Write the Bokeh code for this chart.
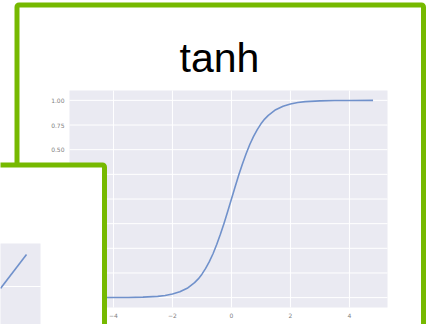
from bokeh.plotting import figure
from bokeh.models import BoxAnnotation, Label, PolyAnnotation, Range1d
from bokeh.core.properties import value
from bokeh.embed import file_html
from bokeh.resources import INLINE

# ---- data ----
title_text = "tanh"
tanh_x = [-5.0, -4.0, -3.5, -3.0, -2.5, -2.25, -2.0, -1.75, -1.5, -1.25, -1.125,
          -1.0, -0.875, -0.75, -0.625, -0.5, -0.375, -0.25, -0.125, 0.0,
          0.125, 0.25, 0.375, 0.5, 0.625, 0.75, 0.875, 1.0, 1.125, 1.25, 1.5,
          1.75, 2.0, 2.25, 2.5, 3.0, 3.5, 4.0, 4.8]
tanh_y = [-1.000, -0.999, -0.998, -0.995, -0.987, -0.978, -0.964, -0.941, -0.905,
          -0.848, -0.810, -0.762, -0.704, -0.635, -0.555, -0.462, -0.358, -0.245,
          -0.124, 0.0, 0.124, 0.245, 0.358, 0.462, 0.555, 0.635, 0.704, 0.762,
          0.810, 0.848, 0.905, 0.941, 0.964, 0.978, 0.987, 0.995, 0.998, 0.999,
          1.000]
x_ticks = [-4, -2, 0, 2, 4]
x_tick_labels = ["\u22124", "\u22122", "0", "2", "4"]
y_ticks = [-1.0, -0.75, -0.5, -0.25, 0.0, 0.25, 0.5, 0.75, 1.0]
y_tick_labels = ["\u22121.00", "\u22120.75", "\u22120.50", "\u22120.25", "0.00",
                 "0.25", "0.50", "0.75", "1.00"]
# axes limits of the tanh panel
x_lim = [-5.49, 5.29]
y_lim = [-1.1, 1.1]

# partially hidden second chart (only its right corner is visible)
inset_x = [3.2, 5.0]
inset_y = [3.2, 5.0]

GREEN = "#76b900"
BG = "#eaeaf2"
LINE = "#7091cb"
TICK = "#808080"
W, H = 434, 324
# pixel placement of the tanh panel inside the slide picture
PX_L, PX_R, PX_T, PX_B = 69, 387, 90, 307

sx = (PX_R - PX_L) / (x_lim[1] - x_lim[0])
sy = (PX_B - PX_T) / (y_lim[1] - y_lim[0])
xr = Range1d(x_lim[0] - PX_L / sx, x_lim[1] + (W - PX_R) / sx)
yr = Range1d(y_lim[0] - (H - PX_B) / sy, y_lim[1] + PX_T / sy)

p = figure(width=W, height=H, output_backend="svg", toolbar_location=None,
           x_range=xr, y_range=yr, x_axis_type=None, y_axis_type=None,
           min_border=0, outline_line_color=None,
           background_fill_color="white", border_fill_color="white")

# panel background
p.add_layout(BoxAnnotation(left=x_lim[0], right=x_lim[1], bottom=y_lim[0],
                           top=y_lim[1], fill_color=BG, fill_alpha=1,
                           line_color=None, level="image"))
# grid lines
p.segment(x0=x_ticks, x1=x_ticks, y0=[y_lim[0]] * len(x_ticks),
          y1=[y_lim[1]] * len(x_ticks), line_color="white", line_width=1)
p.segment(x0=[x_lim[0]] * len(y_ticks), x1=[x_lim[1]] * len(y_ticks),
          y0=y_ticks, y1=y_ticks, line_color="white", line_width=1)

p.line(tanh_x, tanh_y, line_color=LINE, line_width=1.6, line_join="round")

# tick labels
p.text(x=x_ticks, y=[y_lim[0]] * len(x_ticks), text=x_tick_labels,
       y_offset=8, text_align="center", text_baseline="middle",
       text_font=value("DejaVu Sans"), text_font_size="6px",
       text_color=TICK)
p.text(x=[x_lim[0]] * len(y_ticks), y=y_ticks, text=y_tick_labels,
       x_offset=-5, text_align="right", text_baseline="middle",
       text_font=value("DejaVu Sans"), text_font_size="6px",
       text_color=TICK)

# slide decorations (canvas pixel units)
def cbox(**kw):
    return BoxAnnotation(left_units="canvas", right_units="canvas",
                         top_units="canvas", bottom_units="canvas", **kw)

p.add_layout(cbox(left=16.5, right=423, top=4.5, bottom=360,
                  fill_color=None, line_color=GREEN, line_alpha=1,
                  line_width=5, border_radius=2, level="overlay"))

p.add_layout(Label(x=219, y=57, x_units="canvas", y_units="canvas",
                   text=title_text, text_font="Liberation Sans",
                   text_font_size="41px", text_color="black",
                   text_align="center", text_baseline="alphabetic"))

p.add_layout(cbox(left=-40, right=104, top=164.5, bottom=360,
                  fill_color="white", fill_alpha=1, line_color=GREEN,
                  line_alpha=1, line_width=5, border_radius=2,
                  level="overlay"))

p.add_layout(cbox(left=-10, right=40, top=243, bottom=360,
                  fill_color=BG, fill_alpha=1, line_color=None,
                  level="overlay"))

# inset scale: data -> canvas pixels
def ix(v):
    return 0 + (v - 3.2) / (5.0 - 3.2) * 26

def iy(v):
    return 288 - (v - 3.2) / (5.0 - 3.2) * 34

p.add_layout(PolyAnnotation(xs=[-10, 40, 40, -10], ys=[286, 286, 286.01, 286.01],
                            xs_units="canvas", ys_units="canvas",
                            fill_color=None, line_color="white", line_alpha=1,
                            line_width=1, level="overlay"))
p.add_layout(PolyAnnotation(xs=[ix(v) for v in inset_x], ys=[iy(v) for v in inset_y],
                            xs_units="canvas", ys_units="canvas",
                            fill_color=None, line_color=LINE, line_alpha=1,
                            line_width=1.6, level="overlay"))

open("out.html", "w").write(file_html(p, INLINE))
